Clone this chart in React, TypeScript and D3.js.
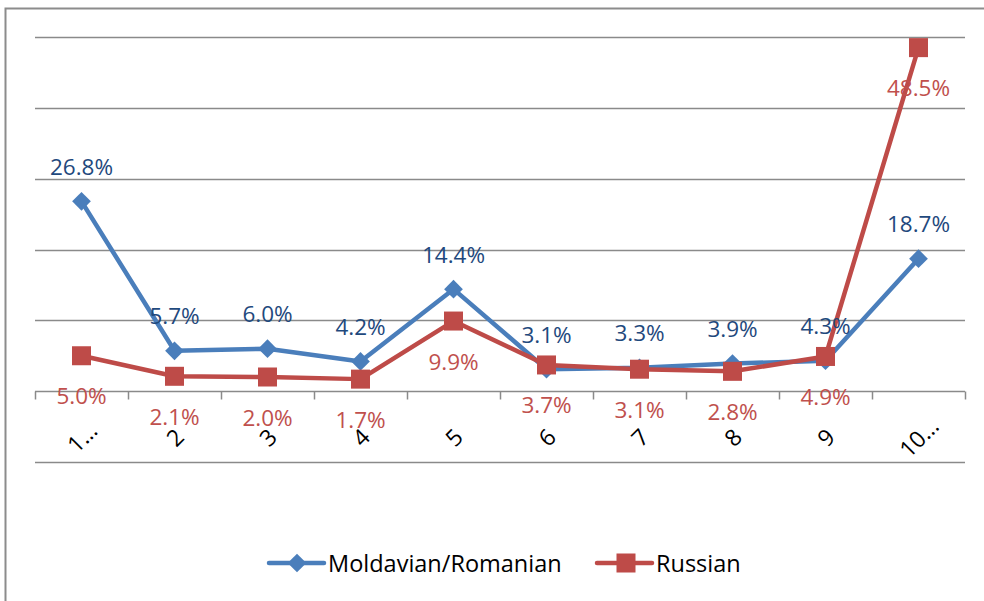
import React, { useEffect, useRef } from "react";
import * as d3 from "d3";

const categories = ["1…", "2", "3", "4", "5", "6", "7", "8", "9", "10…"];
const moldavian = [26.8, 5.7, 6.0, 4.2, 14.4, 3.1, 3.3, 3.9, 4.3, 18.7];
const russian = [5.0, 2.1, 2.0, 1.7, 9.9, 3.7, 3.1, 2.8, 4.9, 48.5];
const gridValues = [-10, 10, 20, 30, 40, 50];

const BLUE = "#4A7EBB";
const RED = "#BE4B48";
const FONT = "'Open Sans', 'Liberation Sans', sans-serif";

const App = () => {
  const ref = useRef<SVGSVGElement>(null);

  useEffect(() => {
    const svg = d3.select(ref.current);
    svg.selectAll("*").remove();

    const x = d3.scaleBand().domain(categories).range([35, 965]);
    const y = d3.scaleLinear().domain([-10, 50]).range([462, 37]);
    const cx = (c: string) => (x(c) as number) + x.bandwidth() / 2;

    // frame
    svg.append("path").attr("d", "M5.5,601 V8.5 H984")
      .attr("fill", "none").attr("stroke", "#8c8c8c").attr("stroke-width", 2);

    // gridlines
    svg.append("g").selectAll("line").data(gridValues).enter().append("line")
      .attr("x1", 35).attr("x2", 965)
      .attr("y1", d => Math.round(y(d)) + 0.5).attr("y2", d => Math.round(y(d)) + 0.5)
      .attr("stroke", "#8a8a8a").attr("stroke-width", 1.5);

    // x axis at 0
    const y0 = Math.round(y(0)) + 0.5;
    svg.append("line").attr("x1", 35).attr("x2", 965).attr("y1", y0).attr("y2", y0)
      .attr("stroke", "#8a8a8a").attr("stroke-width", 1.5);
    const tickX = categories.map(c => x(c) as number).concat([965]);
    svg.append("g").selectAll("line").data(tickX).enter().append("line")
      .attr("x1", d => Math.round(d) + 0.5).attr("x2", d => Math.round(d) + 0.5)
      .attr("y1", y0).attr("y2", y0 + 8)
      .attr("stroke", "#8a8a8a").attr("stroke-width", 1.5);

    // category labels
    svg.append("g").selectAll("text").data(categories).enter().append("text")
      .attr("transform", d => `translate(${cx(d)},${437}) rotate(-45)`)
      .attr("text-anchor", "middle").attr("dominant-baseline", "central")
      .attr("font-family", FONT).attr("font-size", 23).attr("fill", "#000")
      .text(d => d);

    const line = d3.line<number>().x((_, i) => cx(categories[i])).y(d => y(d));

    // series
    svg.append("path").datum(moldavian).attr("d", line)
      .attr("fill", "none").attr("stroke", BLUE).attr("stroke-width", 4.5)
      .attr("stroke-linejoin", "round");
    svg.append("path").datum(russian).attr("d", line)
      .attr("fill", "none").attr("stroke", RED).attr("stroke-width", 4.5)
      .attr("stroke-linejoin", "round");

    const diamond = d3.symbol().type(d3.symbolSquare).size(175);
    svg.append("g").selectAll("path").data(moldavian).enter().append("path")
      .attr("d", diamond)
      .attr("transform", (d, i) => `translate(${cx(categories[i])},${y(d)}) rotate(45)`)
      .attr("fill", BLUE);
    svg.append("g").selectAll("rect").data(russian).enter().append("rect")
      .attr("x", (d, i) => cx(categories[i]) - 9.5).attr("y", d => y(d) - 9.5)
      .attr("width", 19).attr("height", 19).attr("fill", RED);

    // data labels
    svg.append("g").selectAll("text").data(moldavian).enter().append("text")
      .attr("x", (d, i) => cx(categories[i])).attr("y", d => y(d) - 35)
      .attr("text-anchor", "middle").attr("dominant-baseline", "central")
      .attr("font-family", FONT).attr("font-size", 22.5).attr("fill", "#1F497D")
      .text(d => d.toFixed(1) + "%");
    svg.append("g").selectAll("text").data(russian).enter().append("text")
      .attr("x", (d, i) => cx(categories[i])).attr("y", d => y(d) + 40)
      .attr("text-anchor", "middle").attr("dominant-baseline", "central")
      .attr("font-family", FONT).attr("font-size", 22.5).attr("fill", "#C0504D")
      .text(d => d.toFixed(1) + "%");

    // legend
    const legend = [
      { name: "Moldavian/Romanian", color: BLUE, x: 269, marker: "diamond" },
      { name: "Russian", color: RED, x: 597, marker: "square" },
    ];
    const lg = svg.append("g");
    legend.forEach(l => {
      const ly = 563;
      lg.append("line").attr("x1", l.x).attr("x2", l.x + 55).attr("y1", ly).attr("y2", ly)
        .attr("stroke", l.color).attr("stroke-width", 4.5).attr("stroke-linecap", "round");
      if (l.marker === "diamond") {
        lg.append("path").attr("d", diamond)
          .attr("transform", `translate(${l.x + 28},${ly}) rotate(45)`).attr("fill", l.color);
      } else {
        lg.append("rect").attr("x", l.x + 29 - 9.5).attr("y", ly - 9.5)
          .attr("width", 19).attr("height", 19).attr("fill", l.color);
      }
      lg.append("text").attr("x", l.x + 59).attr("y", ly)
        .attr("dominant-baseline", "central")
        .attr("font-family", FONT).attr("font-size", 23.5).attr("fill", "#000")
        .text(l.name);
    });
  }, []);

  return (
    <svg ref={ref} width={984} height={601}
      style={{ position: "absolute", left: 0, top: 0, background: "#fff" }} />
  );
};

export default App;
